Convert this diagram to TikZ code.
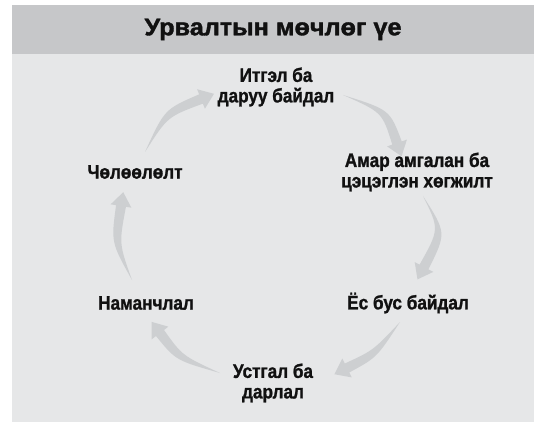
\documentclass[tikz,border=0pt]{standalone}
\usepackage{fontspec}
\setmainfont{Liberation Sans}
\newfontfamily\titlefont{Liberation Sans}[FakeStretch=1.05,FakeBold=1.6]
\newfontfamily\labelfont{Liberation Sans}[FakeStretch=0.88,FakeBold=1.2]
\usetikzlibrary{calc}
\definecolor{headgray}{HTML}{C6C7C9}
\definecolor{panelgray}{HTML}{E6E7E8}
\definecolor{arrgray}{HTML}{CDCFD1}
\definecolor{ink}{HTML}{111111}
\def\cyaw{5pt}
\def\cyah{10.5pt}
\def\cyal{14pt}
\def\cyak{4pt}
\newcommand\cyclearrow[3]{%
  \fill[arrowfill] (#1) .. controls ($(#2)!\cyak!-90:(#3)$) .. ($(#3)!\cyaw!90:(#2)$)
    -- ($(#3)!\cyah!90:(#2)$) -- ($(#3)!\cyal!180:(#2)$)
    -- ($(#3)!\cyah!-90:(#2)$) -- ($(#3)!\cyaw!-90:(#2)$)
    .. controls ($(#2)!\cyak!90:(#3)$) .. (#1) -- cycle;}
\begin{document}
\begin{tikzpicture}[x=1pt,y=-1pt,
  arrowfill/.style={fill=arrgray},
  stage/.style={align=center,text=ink,font=\labelfont\bfseries\fontsize{19.5}{20.5}\selectfont,inner sep=0pt},
  titlestyle/.style={text=ink,font=\titlefont\bfseries\fontsize{24}{26}\selectfont,inner sep=0pt}]
\useasboundingbox (0,0) rectangle (535,422);
\fill[white] (0,0) rectangle (535,422);
\fill[panelgray] (12,5) rectangle (534,422);
\fill[headgray] (12,5) rectangle (534,54);
\node[titlestyle] (title) at (273,29.5) {Урвалтын мөчлөг үе};
\node[stage] (top)  at (276,87)  {Итгэл ба\\даруу байдал};
\node[stage] (rtop) at (417,172) {Амар амгалан ба\\цэцэглэн хөгжилт};
\node[stage] (rbot) at (408,303) {Ёс бус байдал};
\node[stage] (bot)  at (273,383) {Устгал ба\\дарлал};
\node[stage] (lbot) at (146,303) {Наманчлал};
\node[stage] (ltop) at (135,172) {Чөлөөлөлт};
% arrow 1: ltop -> top
\coordinate (t1) at (145,152); \coordinate (k1) at (166,113); \coordinate (e1) at (201,99);
% arrow 2: top -> rtop
\coordinate (t2) at (343,95);  \coordinate (k2) at (386,111); \coordinate (e2) at (397,143);
% arrow 3: rtop -> rbot
\coordinate (t3) at (423,196); \coordinate (k3) at (443,231); \coordinate (e3) at (424,267);
% arrow 4: rbot -> bot
\coordinate (t4) at (400,322); \coordinate (k4) at (375,354); \coordinate (e4) at (347,368);
% arrow 5: bot -> lbot
\coordinate (t5) at (220,373); \coordinate (k5) at (179,358); \coordinate (e5) at (160,333);
% arrow 6: lbot -> ltop
\coordinate (t6) at (132,280); \coordinate (k6) at (115,243); \coordinate (e6) at (121,206);
\cyclearrow{t1}{k1}{e1}
\cyclearrow{t2}{k2}{e2}
\cyclearrow{t3}{k3}{e3}
\cyclearrow{t4}{k4}{e4}
\cyclearrow{t5}{k5}{e5}
\cyclearrow{t6}{k6}{e6}
\end{tikzpicture}
\end{document}
